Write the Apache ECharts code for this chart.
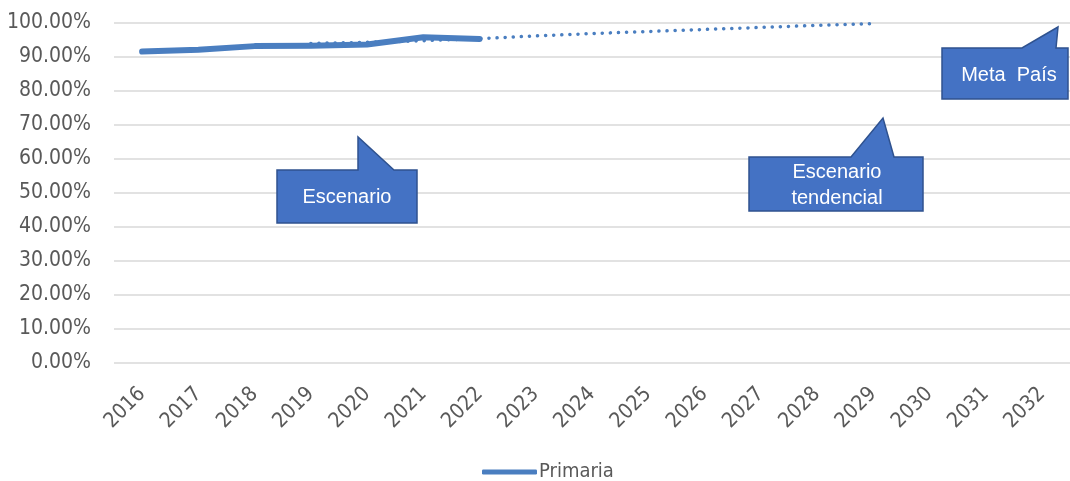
<!DOCTYPE html>
<html>
<head>
<meta charset="utf-8">
<script src="https://cdn.jsdelivr.net/npm/echarts@6/dist/echarts.min.js"></script>
<style>
  html, body { margin: 0; padding: 0; background: #ffffff; }
  #chart { width: 1070px; height: 481px; }
</style>
</head>
<body>
<div id="chart"></div>
<script>
// Tasa de cobertura - Primaria (observado y escenario tendencial)
const years = ['2016', '2017', '2018', '2019', '2020', '2021', '2022', '2023', '2024',
               '2025', '2026', '2027', '2028', '2029', '2030', '2031', '2032'];
const primaria = [91.6, 92.1, 93.2, 93.3, 93.7, 95.8, 95.3,
                  null, null, null, null, null, null, null, null, null, null];
const tendencial = [null, null, null, 94.0, 94.3, 94.8, 95.4, 96.2, 96.9,
                    97.5, 98.1, 98.7, 99.3, 99.8, null, null, null];
const yMin = 0, yMax = 100, yStep = 10;

const AXIS_FONT = "'DejaVu Sans Condensed', 'Open Sans', sans-serif";
const BOX_FONT = "'Liberation Sans', Arial, sans-serif";
const BLUE = '#4A7EC0';
const BOX_FILL = '#4472C4';
const BOX_EDGE = '#2F528F';

function callout(points, lines, cx, cy, lineH) {
  const els = [{
    type: 'polygon',
    shape: { points: points },
    style: { fill: BOX_FILL, stroke: BOX_EDGE, lineWidth: 1.5 },
    z: 10
  }];
  lines.forEach(function (t, i) {
    els.push({
      type: 'text',
      x: cx,
      y: cy + (i - (lines.length - 1) / 2) * lineH,
      style: {
        text: t, fill: '#ffffff', font: '20px ' + BOX_FONT,
        align: 'center', verticalAlign: 'middle'
      },
      z: 11
    });
  });
  return els;
}

const chart = echarts.init(document.getElementById('chart'), null, { renderer: 'canvas' });

chart.setOption({
  animation: false,
  backgroundColor: '#ffffff',
  grid: { left: 114, top: 23, width: 962, height: 340, containLabel: false },
  legend: {
    data: [{ name: 'Primaria', icon: 'roundRect' }],
    left: 482, top: 462, padding: 0,
    itemWidth: 55, itemHeight: 5, itemGap: 4,
    textStyle: { color: '#595959', fontSize: 20, fontFamily: AXIS_FONT, padding: [0, 0, 0, -3] }
  },
  xAxis: {
    type: 'category',
    data: years,
    boundaryGap: true,
    axisLine: { show: false },
    axisTick: { show: false },
    axisLabel: {
      rotate: 45, margin: 28, interval: 0,
      color: '#595959', fontSize: 21, fontFamily: AXIS_FONT
    }
  },
  yAxis: {
    type: 'value',
    min: yMin, max: yMax, interval: yStep,
    axisLine: { show: false },
    axisTick: { show: false },
    splitLine: { lineStyle: { color: '#D9D9D9', width: 1.5 } },
    axisLabel: {
      margin: 23, color: '#595959', fontSize: 21, fontFamily: AXIS_FONT,
      formatter: function (v) { return v.toFixed(2) + '%'; }
    }
  },
  series: [
    {
      name: 'Escenario tendencial',
      type: 'line',
      data: tendencial,
      symbol: 'none',
      z: 2,
      lineStyle: { color: BLUE, width: 3.5, type: [0.1, 8], cap: 'round' }
    },
    {
      name: 'Primaria',
      type: 'line',
      data: primaria,
      symbol: 'none',
      z: 3,
      itemStyle: { color: BLUE },
      lineStyle: { color: BLUE, width: 6, cap: 'round', join: 'round' }
    }
  ],
  graphic: [].concat(
    callout([[277, 170], [358, 170], [358, 137], [394, 170], [417, 170], [417, 223], [277, 223]],
            ['Escenario'], 347, 197, 26),
    callout([[749, 157], [851, 157], [883, 118], [894, 157], [923, 157], [923, 211], [749, 211]],
            ['Escenario', 'tendencial'], 837, 185, 26),
    callout([[942, 48], [1022, 48], [1058, 27], [1056, 48], [1068, 48], [1068, 99], [942, 99]],
            ['Meta  País'], 1009, 75, 26)
  )
});
</script>
</body>
</html>
